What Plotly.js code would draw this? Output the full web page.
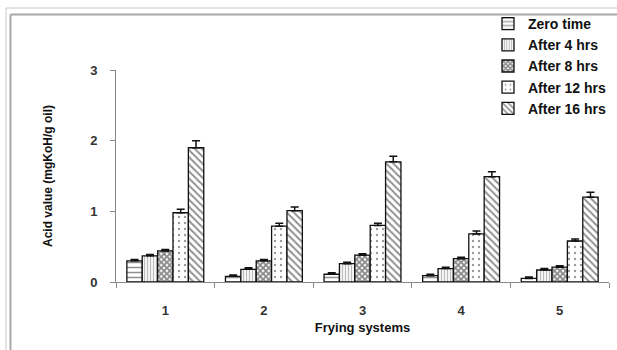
<!DOCTYPE html>
<html>
<head>
<meta charset="utf-8">
<script src="https://cdn.plot.ly/plotly-3.0.1.min.js"></script>
<style>html,body{margin:0;padding:0;background:#fff;}#chart{width:617px;height:350px;}</style>
</head>
<body>
<div id="chart"></div>
<script>
const categories = ["1", "2", "3", "4", "5"];
const seriesNames = ["Zero time", "After 4 hrs", "After 8 hrs", "After 12 hrs", "After 16 hrs"];
const zeroTime = [0.30, 0.08, 0.11, 0.09, 0.05];
const after4 = [0.37, 0.18, 0.26, 0.19, 0.17];
const after8 = [0.44, 0.30, 0.38, 0.33, 0.21];
const after12 = [0.98, 0.79, 0.80, 0.68, 0.58];
const after16 = [1.90, 1.01, 1.70, 1.49, 1.20];
const errZero = [0.02, 0.02, 0.02, 0.02, 0.02];
const err4 = [0.02, 0.02, 0.02, 0.02, 0.02];
const err8 = [0.02, 0.02, 0.02, 0.02, 0.02];
const err12 = [0.05, 0.04, 0.03, 0.04, 0.03];
const err16 = [0.10, 0.05, 0.08, 0.07, 0.07];
const yTicks = [0, 1, 2, 3];

const values = [zeroTime, after4, after8, after12, after16];
const errors = [errZero, err4, err8, err12, err16];
const patterns = [
  {shape: "-", size: 5, solidity: 0.3, fgcolor: "#222", bgcolor: "#fff", fillmode: "overlay"},
  {shape: "|", size: 3, solidity: 0.45, fgcolor: "#777", bgcolor: "#fff", fillmode: "overlay"},
  {shape: "x", size: 4, solidity: 0.7, fgcolor: "#111", bgcolor: "#fff", fillmode: "overlay"},
  {shape: ".", size: 6, solidity: 0.12, fgcolor: "#333", bgcolor: "#fff", fillmode: "overlay"},
  {shape: "\\", size: 5, solidity: 0.4, fgcolor: "#222", bgcolor: "#fff", fillmode: "overlay"}
];

const traces = seriesNames.map((name, i) => ({
  type: "bar",
  name: name,
  x: categories,
  y: values[i],
  marker: {color: "#fff", line: {color: "#111", width: 1.3}, pattern: patterns[i]},
  error_y: {type: "data", array: errors[i], arrayminus: errors[i].map(() => 0), symmetric: false, color: "#111", thickness: 1.5, width: 4}
}));

const L = 116, R = 609, T = 70, B = 282;
const px = v => (v - L) / (R - L);
const py = v => (B - v) / (B - T);

const layout = {
  width: 617, height: 350,
  margin: {l: L, r: 617 - R, t: T, b: 350 - B, pad: 0, autoexpand: false},
  paper_bgcolor: "#fff", plot_bgcolor: "#fff",
  barmode: "group", bargap: 0.22, bargroupgap: 0,
  font: {family: "Liberation Sans, Arial, sans-serif", size: 12, color: "#333"},
  showlegend: true,
  legend: {x: px(488), y: py(8), xanchor: "left", yanchor: "top", bgcolor: "rgba(0,0,0,0)",
    font: {family: "Liberation Sans, Arial, sans-serif", size: 14, color: "#111", weight: "bold"},
    tracegroupgap: 0, itemwidth: 30},
  xaxis: {type: "category", tickson: "boundaries", ticks: "outside", ticklen: 5, tickcolor: "#888",
    showline: true, linecolor: "#888", linewidth: 1, showgrid: false, zeroline: false,
    tickfont: {size: 13, color: "#333", weight: "bold"}, ticklabelstandoff: 16,
    title: {text: "Frying systems", font: {size: 13, color: "#111", weight: "bold"}, standoff: 6}},
  yaxis: {range: [0, 3], tickvals: yTicks, ticktext: yTicks.map(String), ticks: "outside", ticklen: 5, tickcolor: "#888",
    showline: true, linecolor: "#888", linewidth: 1, showgrid: false, zeroline: false,
    tickfont: {size: 13, color: "#333", weight: "bold"}, ticklabelstandoff: 10,
    title: {text: "Acid value (mgKoH/g oil)", font: {size: 12, color: "#111", weight: "bold"}, standoff: 34}},
  shapes: [
    {type: "line", xref: "paper", yref: "paper", x0: px(6), x1: px(6), y0: py(8), y1: py(350), line: {color: "#c8c8c8", width: 1}},
    {type: "line", xref: "paper", yref: "paper", x0: px(6), x1: px(617), y0: py(8), y1: py(8), line: {color: "#c8c8c8", width: 1}},
    {type: "line", xref: "paper", yref: "paper", x0: px(10.5), x1: px(10.5), y0: py(14.5), y1: py(350), line: {color: "#a8a8a8", width: 2}},
    {type: "line", xref: "paper", yref: "paper", x0: px(10.5), x1: px(617), y0: py(14.5), y1: py(14.5), line: {color: "#a8a8a8", width: 2}}
  ]
};

Plotly.newPlot("chart", traces, layout, {displayModeBar: false, staticPlot: true});
</script>
</body>
</html>
